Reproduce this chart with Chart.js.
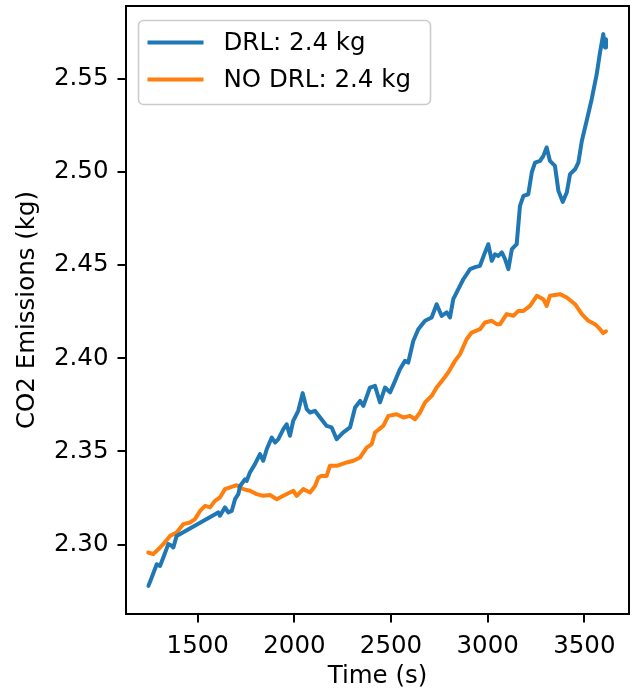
<!DOCTYPE html>
<html><head><meta charset="utf-8">
<script src="https://cdn.jsdelivr.net/npm/chart.js@4.4.1/dist/chart.umd.min.js"></script>
<style>html,body{margin:0;padding:0;background:#fff}#wrap{width:644px;height:692px}</style>
</head><body><div id="wrap"><canvas id="c" width="644" height="692"></canvas></div>
<script>
// ---- data ----
const drlTime = [1245,1262,1288,1305,1322,1348,1365,1374,1391,
  1606,1615,1641,1658,1676,1693,1710,1719,1745,1753,1770,1796,1822,1839,1857,1883,1900,1917,1943,1960,1977,1994,
  2020,2043,2064,2081,2107,2133,2167,2193,2219,2253,2288,2314,2340,2357,2391,2417,2443,2469,2495,
  2521,2546,2572,2589,2615,2641,2676,2710,2736,2762,2788,2805,2822,2848,2874,2909,2935,2960,2986,
  3003,3021,3038,3055,3073,3090,3107,3125,3150,3167,3185,3210,3228,3245,3271,3288,3305,3322,3348,3366,3388,
  3409,3426,3452,3469,3487,3512,3538,3564,3581,3598,3607,3612];
const drlCO2 = [2.2779,2.2824,2.2895,2.2886,2.2931,2.3003,2.2994,2.2985,2.3047,
  2.3173,2.3155,2.3200,2.3173,2.3181,2.3244,2.3271,2.3315,2.3351,2.3342,2.3387,2.3432,2.3486,2.3450,2.3512,2.3575,2.3548,2.3566,2.3620,2.3646,2.3584,2.3664,
  2.3718,2.3813,2.3727,2.3709,2.3718,2.3682,2.3637,2.3629,2.3566,2.3602,2.3629,2.3736,2.3771,2.3745,2.3843,2.3852,2.3763,2.3843,2.3817,
  2.3879,2.3941,2.3986,2.3977,2.4093,2.4156,2.4201,2.4219,2.4290,2.4227,2.4246,2.4219,2.4317,2.4371,2.4424,2.4478,2.4489,2.4496,2.4568,
  2.4612,2.4523,2.4558,2.4549,2.4568,2.4532,2.4478,2.4585,2.4612,2.4818,2.4871,2.4880,2.4997,2.5050,2.5059,2.5086,2.5131,2.5059,2.5032,2.4898,2.4839,
  2.4889,2.4988,2.5014,2.5050,2.5166,2.5274,2.5390,2.5524,2.5641,2.5739,2.5667,2.5712];
const noDrlTime = [1244,1270,1288,1322,1357,1391,1425,1460,1486,1512,1538,1564,1589,1615,1641,1667,1702,1736,1770,1805,
  1839,1874,1909,1943,1995,2012,2046,2081,2107,2124,2141,2167,2184,2219,2271,2305,2340,2374,2400,2417,2460,2486,
  2529,2564,2598,2624,2650,2676,2710,2736,2770,2796,2831,2857,2891,2917,2960,2986,3021,3047,3064,3098,3133,3159,
  3185,3219,3254,3288,3305,3322,3374,3409,3452,3487,3521,3555,3581,3597,3612];
const noDrlCO2 = [2.2958,2.2949,2.2967,2.3003,2.3047,2.3065,2.3110,2.3119,2.3137,2.3181,2.3208,2.3200,2.3235,2.3253,2.3298,2.3307,2.3319,2.3298,2.3289,2.3271,
  2.3262,2.3266,2.3244,2.3262,2.3289,2.3262,2.3298,2.3280,2.3315,2.3360,2.3369,2.3369,2.3423,2.3423,2.3441,2.3450,2.3468,2.3521,2.3539,2.3602,2.3637,2.3691,
  2.3700,2.3682,2.3691,2.3673,2.3709,2.3763,2.3798,2.3843,2.3888,2.3924,2.3986,2.4022,2.4102,2.4138,2.4156,2.4192,2.4201,2.4183,2.4183,2.4237,2.4228,2.4254,
  2.4254,2.4281,2.4335,2.4317,2.4281,2.4335,2.4344,2.4326,2.4290,2.4237,2.4201,2.4183,2.4156,2.4135,2.4145];
const xTicks = [1500, 2000, 2500, 3000, 3500];
const yTicks = [2.30, 2.35, 2.40, 2.45, 2.50, 2.55];
const seriesLabels = ['DRL: 2.4 kg', 'NO DRL: 2.4 kg'];
const xTitle = 'Time (s)';
const yTitle = 'CO2 Emissions (kg)';

const FONT = 'DejaVu Sans';
const FS = 24.5;
const colors = ['#1f77b4', '#ff7f0e'];

const toXY = (xs, ys) => xs.map((x, i) => ({x: x, y: ys[i]}));

const framePlugin = {
  id: 'frame',
  afterDraw(chart) {
    const {ctx, chartArea: a} = chart;
    ctx.save();
    ctx.strokeStyle = '#000';
    ctx.lineWidth = 2;
    ctx.strokeRect(a.left, a.top, a.right - a.left, a.bottom - a.top);
    ctx.restore();
    // legend (matplotlib style, upper left inside axes)
    ctx.save();
    const x0 = a.left + 12.5, y0 = a.top + 14.5, w = 292, h = 84, r = 5;
    ctx.globalAlpha = 0.8;
    ctx.fillStyle = '#fff';
    ctx.beginPath();
    ctx.roundRect(x0, y0, w, h, r);
    ctx.fill();
    ctx.globalAlpha = 1;
    ctx.strokeStyle = '#cccccc';
    ctx.lineWidth = 1.6;
    ctx.stroke();
    ctx.font = FS + 'px "' + FONT + '"';
    ctx.textBaseline = 'middle';
    ctx.textAlign = 'left';
    chart.data.datasets.forEach((ds, i) => {
      const yy = y0 + 22 + i * 37;
      ctx.strokeStyle = ds.borderColor;
      ctx.lineWidth = 4;
      ctx.beginPath();
      ctx.moveTo(x0 + 9, yy);
      ctx.lineTo(x0 + 65, yy);
      ctx.stroke();
      ctx.fillStyle = '#000';
      ctx.fillText(ds.label, x0 + 85, yy + 1);
    });
    ctx.restore();
  }
};

new Chart(document.getElementById('c'), {
  type: 'line',
  data: {
    datasets: [
      {label: seriesLabels[0], data: toXY(drlTime, drlCO2), borderColor: colors[0], backgroundColor: colors[0],
       borderWidth: 4, pointRadius: 0, tension: 0, fill: false, borderJoinStyle: 'round', borderCapStyle: 'round'},
      {label: seriesLabels[1], data: toXY(noDrlTime, noDrlCO2), borderColor: colors[1], backgroundColor: colors[1],
       borderWidth: 4, pointRadius: 0, tension: 0, fill: false, borderJoinStyle: 'round', borderCapStyle: 'round'}
    ]
  },
  options: {
    responsive: false,
    animation: false,
    devicePixelRatio: 1,
    layout: {padding: {left: 0, right: 15, top: 6, bottom: 0}},
    plugins: {legend: {display: false}, tooltip: {enabled: false}},
    scales: {
      x: {
        type: 'linear', min: 1129, max: 3731,
        afterBuildTicks: s => { s.ticks = xTicks.map(v => ({value: v})); },
        afterFit: s => { s.height = 78; s.paddingLeft = 0; s.paddingRight = 0; s.paddingTop = 0; s.paddingBottom = 0; },
        grid: {display: true, drawOnChartArea: false, drawTicks: true, tickLength: 8.5, color: '#000', lineWidth: 2},
        border: {display: false},
        ticks: {color: '#000', font: {family: FONT, size: FS}, padding: 9, maxRotation: 0, autoSkip: false,
                callback: v => String(v)},
        title: {display: true, text: xTitle, color: '#000', font: {family: FONT, size: FS, lineHeight: 1.2}, padding: {top: 0, bottom: 1}}
      },
      y: {
        type: 'linear', min: 2.2628, max: 2.5890,
        afterBuildTicks: s => { s.ticks = yTicks.map(v => ({value: v})); },
        afterFit: s => { s.width = 126; s.paddingLeft = 0; s.paddingRight = 0; s.paddingTop = 0; s.paddingBottom = 0; },
        grid: {display: true, drawOnChartArea: false, drawTicks: true, tickLength: 8.5, color: '#000', lineWidth: 2},
        border: {display: false},
        ticks: {color: '#000', font: {family: FONT, size: FS}, padding: 9, autoSkip: false,
                callback: v => Number(v).toFixed(2)},
        title: {display: true, text: yTitle, color: '#000', font: {family: FONT, size: FS, lineHeight: 1.2}, padding: {top: 13, bottom: 0}}
      }
    }
  },
  plugins: [framePlugin]
});
</script>
</body></html>
